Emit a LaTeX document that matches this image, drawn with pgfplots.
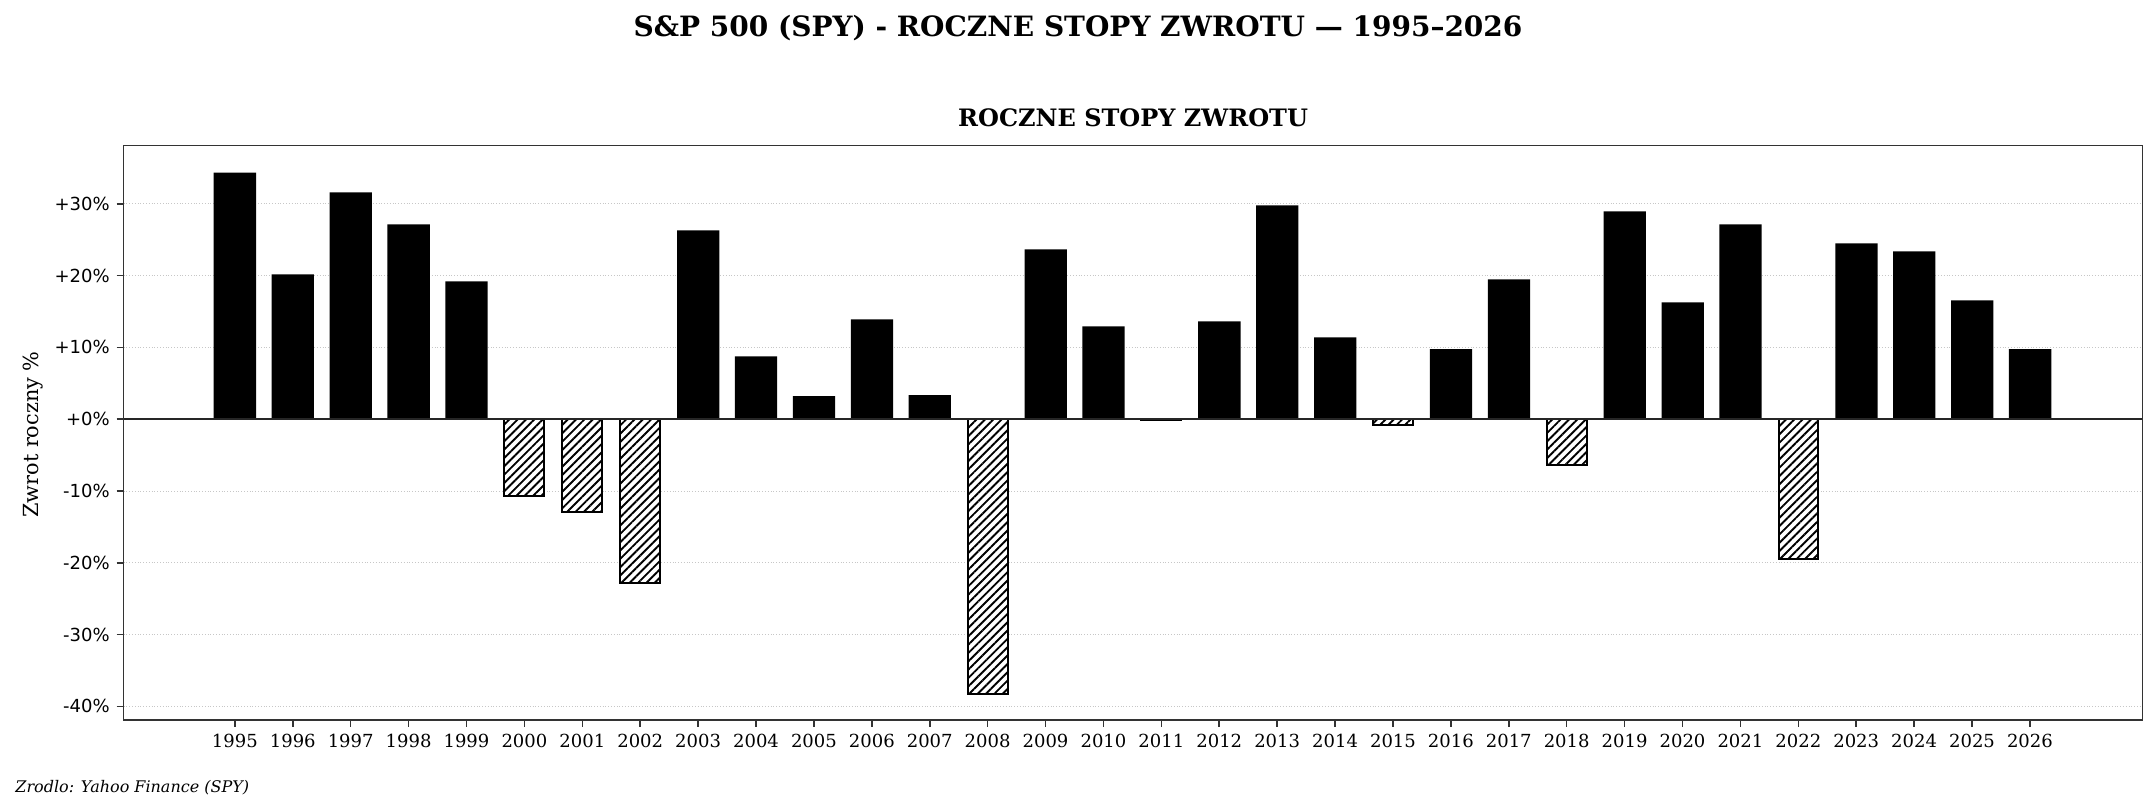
\documentclass[border=0pt]{standalone}
\usepackage{fontspec}
\setmainfont{DejaVu Serif}
\newfontfamily\dvsans{DejaVu Sans}
\usepackage{pgfplots}
\pgfplotsset{compat=1.18}
\usetikzlibrary{patterns.meta}

\begin{document}
\begin{tikzpicture}
\path[use as bounding box] (-61.85pt,-46pt) rectangle (1016.15pt,360pt);
\begin{axis}[
  at={(0pt,0pt)}, anchor=south west,
  width=1009.4pt, height=287.2pt, scale only axis,
  xmin=1993.08, xmax=2027.94,
  ymin=-41.9, ymax=38.1,
  xtick={1995,...,2026},
  ytick={-40,-30,-20,-10,0,10,20,30},
  yticklabels={-40\%,-30\%,-20\%,-10\%,+0\%,+10\%,+20\%,+30\%},
  /pgf/number format/1000 sep={},
  /pgf/number format/assume math mode=true,
  tick align=outside,
  major tick length=3.5pt,
  xtick pos=bottom, ytick pos=left,
  tick style={black!80, line width=0.8pt},
  axis line style={black!80, line width=0.8pt},
  ymajorgrids,
  major grid style={densely dotted, black!22, line width=0.4pt},
  xticklabel style={font=\fontsize{9}{11}\selectfont},
  yticklabel style={font=\dvsans\fontsize{9}{11}\selectfont},
  ybar, bar shift=0pt,
]
% positive years
\addplot[fill=black, draw=none, bar width=0.73] coordinates {
 (1995,34.35) (1996,20.17) (1997,31.57) (1998,27.12) (1999,19.19)
 (2003,26.29) (2004,8.76) (2005,3.20) (2006,13.90) (2007,3.34)
 (2009,23.64) (2010,12.93) (2012,13.63) (2013,29.76) (2014,11.40)
 (2016,9.74) (2017,19.47) (2019,28.93) (2020,16.27) (2021,27.12)
 (2023,24.48) (2024,23.37) (2025,16.55) (2026,9.74)
};
% negative years
\addplot[fill=white, draw=black, line width=1pt, bar width=0.69,
  postaction={pattern={Lines[angle=45,distance=2.95pt,line width=0.95pt]}}] coordinates {
 (2000,-10.75) (2001,-12.93) (2002,-22.80) (2008,-38.25)
 (2011,-0.14) (2015,-0.88) (2018,-6.45) (2022,-19.50)
};
\draw[black!85, line width=0.8pt] (axis cs:1993.08,0) -- (axis cs:2027.94,0);
\end{axis}
\node[anchor=base, font=\bfseries\fontsize{14}{17}\selectfont] at (477.15pt,341.5pt)
  {S\&P 500 (SPY) - ROCZNE STOPY ZWROTU — 1995–2026};
\node[anchor=base, font=\bfseries\fontsize{12}{14}\selectfont] at (504.7pt,296.5pt)
  {ROCZNE STOPY ZWROTU};
\node[anchor=base, rotate=90, font=\fontsize{10.4}{12}\selectfont] at (-42.35pt,142.75pt)
  {Zwrot roczny \%};
\node[anchor=base west, inner sep=0pt, font=\itshape\fontsize{8}{10}\selectfont] at (-54.35pt,-36.5pt)
  {Zrodlo: Yahoo Finance (SPY)};
\end{tikzpicture}
\end{document}
